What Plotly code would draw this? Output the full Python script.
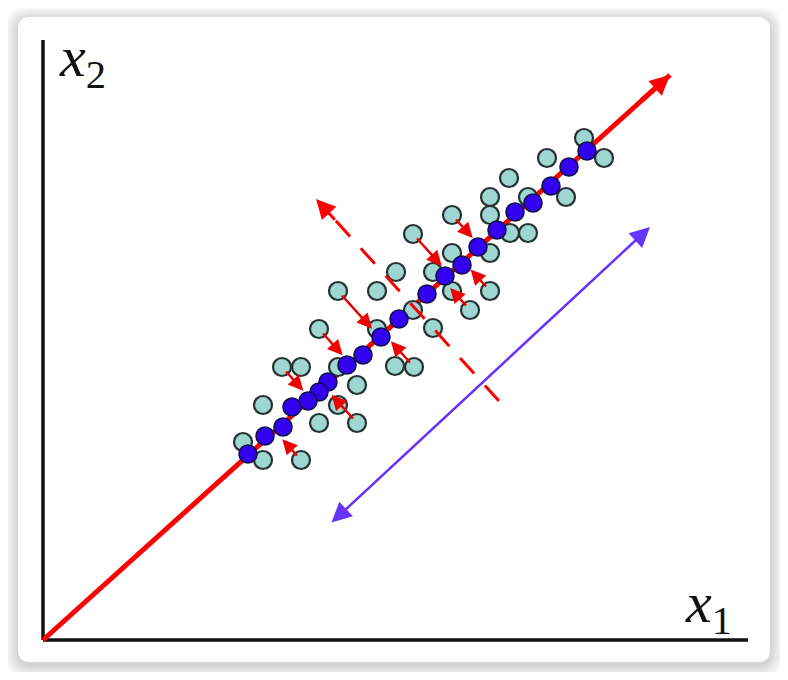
import plotly.graph_objects as go
import numpy as np

# ---- data (origin at the axes corner, 1 unit ~ 1 px) ----
teal_x = [541, 561, 504, 466, 447, 485, 523, 447, 409, 467, 485, 370, 409, 447, 353, 390,
          295, 334, 409, 447, 370, 427, 276, 334, 390, 239, 258, 295, 352, 371, 314, 220,
          295, 276, 314, 200, 220, 258]
teal_y = [502, 482, 482, 462, 443, 443, 443, 425, 425, 407, 407, 406, 387, 387, 368, 368,
          349, 349, 349, 349, 330, 330, 311, 311, 312, 273, 273, 273, 274, 273, 255, 235,
          235, 217, 217, 198, 180, 180]

blue_x = [544, 526, 508, 490, 472, 454, 435, 419, 402, 384, 356, 338, 320, 304, 285, 276,
          265, 249, 240, 222, 205]
blue_y = [489, 473, 454, 437, 428, 410, 393, 375, 364, 346, 321, 303, 285, 275, 258, 248,
          239, 233, 213, 204, 186]

# teal points whose projection onto the first component is drawn as an arrow
arrow_from = [11, 8, 19, 21, 16, 22, 29, 34, 37, 25]

pc1_tip = (627, 565)            # first principal direction (arrow tip)
pc2_start = (456, 239)          # second component dashed line start
pc2_tip = (273, 441)            # second component arrow tip
spread_start = (287, 116)       # purple double arrow ends
spread_end = (607, 413)

x_label = "<i>x</i><sub>1</sub>"
y_label = "<i>x</i><sub>2</sub>"

# ---- helpers ----
OX, OY = 43, 640          # page pixel of the axes corner
SH = 8                    # page body margin offset
W, H = 772, 664
def X(px): return px - OX
def Y(py): return OY - py

def rrect(x0, y0, x1, y1, r):
    p = lambda a, b: f"{X(a)},{Y(b)}"
    return (f"M {p(x0+r,y0)} L {p(x1-r,y0)} Q {p(x1,y0)} {p(x1,y0+r)} "
            f"L {p(x1,y1-r)} Q {p(x1,y1)} {p(x1-r,y1)} L {p(x0+r,y1)} "
            f"Q {p(x0,y1)} {p(x0,y1-r)} L {p(x0,y0+r)} Q {p(x0,y0)} {p(x0+r,y0)} Z")

fig = go.Figure()

# main principal axis line (under the points)
fig.add_trace(go.Scatter(x=[0, pc1_tip[0]], y=[0, pc1_tip[1]], mode="lines",
                         line=dict(color="#ff0000", width=5), hoverinfo="skip"))

# original data points
fig.add_trace(go.Scatter(x=teal_x, y=teal_y, mode="markers",
                         marker=dict(size=18, color="#9ed6d2",
                                     line=dict(color="#263232", width=2.2)),
                         hoverinfo="skip"))

# second component dashed line
fig.add_trace(go.Scatter(x=[pc2_start[0], pc2_tip[0] + 27 * 0.674],
                         y=[pc2_start[1], pc2_tip[1] - 27 * 0.739],
                         mode="lines", line=dict(color="#ff0000", width=3, dash="21px,16px"),
                         hoverinfo="skip"))

# projected points
fig.add_trace(go.Scatter(x=blue_x, y=blue_y, mode="markers",
                         marker=dict(size=18, color="#3300f0",
                                     line=dict(color="#10104a", width=1.6)),
                         hoverinfo="skip"))

annotations = []
d = np.array(pc1_tip, dtype=float)
u = d / np.linalg.norm(d)
annotations.append(dict(x=pc1_tip[0], y=pc1_tip[1], ax=pc1_tip[0] - 40 * u[0], ay=pc1_tip[1] - 40 * u[1],
                        xref="x", yref="y", axref="x", ayref="y", text="", showarrow=True,
                        arrowhead=2, arrowsize=0.8, arrowwidth=5, arrowcolor="#ff0000"))
annotations.append(dict(x=pc2_tip[0], y=pc2_tip[1], ax=pc2_tip[0] + 30 * 0.674, ay=pc2_tip[1] - 30 * 0.739,
                        xref="x", yref="y", axref="x", ayref="y", text="", showarrow=True,
                        arrowhead=2, arrowsize=1.3, arrowwidth=3, arrowcolor="#ff0000"))
for i in arrow_from:
    p = np.array([teal_x[i], teal_y[i]], dtype=float)
    q = u * np.dot(p, u)
    annotations.append(dict(x=q[0], y=q[1], ax=p[0], ay=p[1],
                            xref="x", yref="y", axref="x", ayref="y", text="", showarrow=True,
                            arrowhead=2, arrowsize=1.2, arrowwidth=2.5, arrowcolor="#ee0000",
                            standoff=11, startstandoff=4))
annotations.append(dict(x=spread_end[0], y=spread_end[1], ax=spread_start[0], ay=spread_start[1],
                        xref="x", yref="y", axref="x", ayref="y", text="", showarrow=True,
                        arrowhead=2, arrowsize=1.6, arrowwidth=2.5, arrowcolor="#6633ff",
                        arrowside="end+start", startarrowhead=2, startarrowsize=1.6))
annotations.append(dict(x=X(57), y=Y(60), xref="x", yref="y", text=y_label, showarrow=False,
                        xanchor="left", yanchor="middle",
                        font=dict(family="Liberation Serif", size=58, color="#111")))
annotations.append(dict(x=X(683), y=Y(606), xref="x", yref="y", text=x_label, showarrow=False,
                        xanchor="left", yanchor="middle",
                        font=dict(family="Liberation Serif", size=58, color="#111")))

shapes = []
for i in range(14, 0, -1):
    shapes.append(dict(type="path", path=rrect(18 - i, 17 - i + 3, 770 + i, 662 + i + 3, 12 + i),
                       xref="x", yref="y", fillcolor="rgba(0,0,0,0.012)", line=dict(width=0),
                       layer="below"))
shapes.append(dict(type="path", path=rrect(18, 17, 770, 662, 12), xref="x", yref="y",
                   fillcolor="#ffffff", line=dict(width=0), layer="below"))
shapes.append(dict(type="line", x0=0, y0=0, x1=0, y1=Y(40), xref="x", yref="y",
                   line=dict(color="#111111", width=3.5), layer="below"))
shapes.append(dict(type="line", x0=0, y0=0, x1=X(748), y1=0, xref="x", yref="y",
                   line=dict(color="#111111", width=3.5), layer="below"))

fig.update_layout(
    width=W, height=H, autosize=False,
    margin=dict(l=0, r=0, t=0, b=0, pad=0),
    paper_bgcolor="#ffffff", plot_bgcolor="rgba(0,0,0,0)",
    showlegend=False,
    xaxis=dict(range=[-(OX - SH), W - (OX - SH)], visible=False, fixedrange=True),
    yaxis=dict(range=[(OY - SH) - H, OY - SH], visible=False, fixedrange=True),
    annotations=annotations, shapes=shapes,
)

fig.write_html("out.html")
